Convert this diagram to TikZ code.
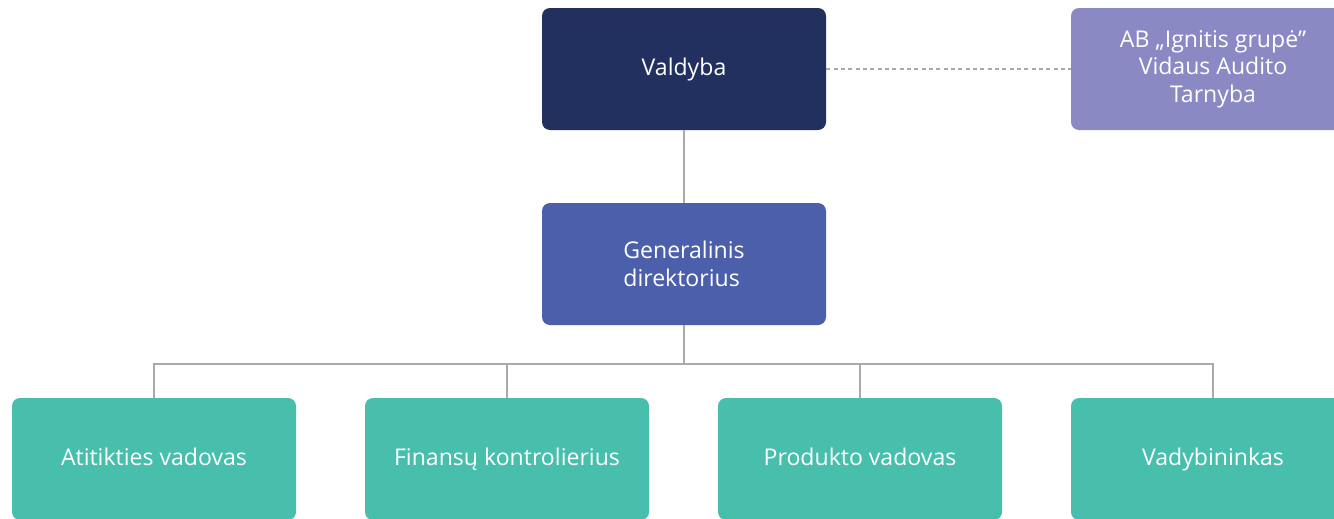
\documentclass[tikz,border=0pt]{standalone}
\usepackage{fontspec}
\setmainfont{Open Sans}
\definecolor{navy}{RGB}{34,48,96}
\definecolor{genblue}{RGB}{76,95,170}
\definecolor{auditc}{RGB}{139,137,195}
\definecolor{teal}{RGB}{72,190,173}
\definecolor{linec}{RGB}{170,170,170}
\begin{document}
\begin{tikzpicture}[x=0.75pt,y=-0.75pt,
  box/.style={rounded corners=6pt, minimum width=213pt, minimum height=91.5pt, inner sep=0pt,
    text=white, font=\fontsize{17.3}{20.6}\selectfont},
  one/.style={text height=12.5pt, text depth=3.5pt},
  conn/.style={draw=linec, line width=1.3pt},
  dconn/.style={conn, dash pattern=on 3pt off 2.5pt}]
\useasboundingbox (0,0) rectangle (1334,518);
\clip (0,0) rectangle (1334,518);
\node[box, one, fill=navy] (valdyba) at (684,69) {Valdyba};
\node[box, fill=auditc, align=center] (audit) at (1213,69) {AB „Ignitis grupė”\\Vidaus Audito\\Tarnyba};
\node[box, fill=genblue, align=left] (gen) at (684,264) {Generalinis\\direktorius};
\node[box, one, fill=teal] (b1) at (154,459) {Atitikties vadovas};
\node[box, one, fill=teal] (b2) at (507,459) {Finansų kontrolierius};
\node[box, one, fill=teal] (b3) at (860,459) {Produkto vadovas};
\node[box, one, fill=teal] (b4) at (1213,459) {Vadybininkas};
\coordinate (bus) at (684,364);
\draw[conn] (valdyba.south) -- (gen.north);
\draw[dconn] (valdyba.east) -- (audit.west);
\draw[conn] (gen.south) -- (bus);
\draw[conn] (b1.north) |- (bus) -| (b4.north);
\draw[conn] (b2.north) -- (b2.north |- bus);
\draw[conn] (b3.north) -- (b3.north |- bus);
\end{tikzpicture}
\end{document}
